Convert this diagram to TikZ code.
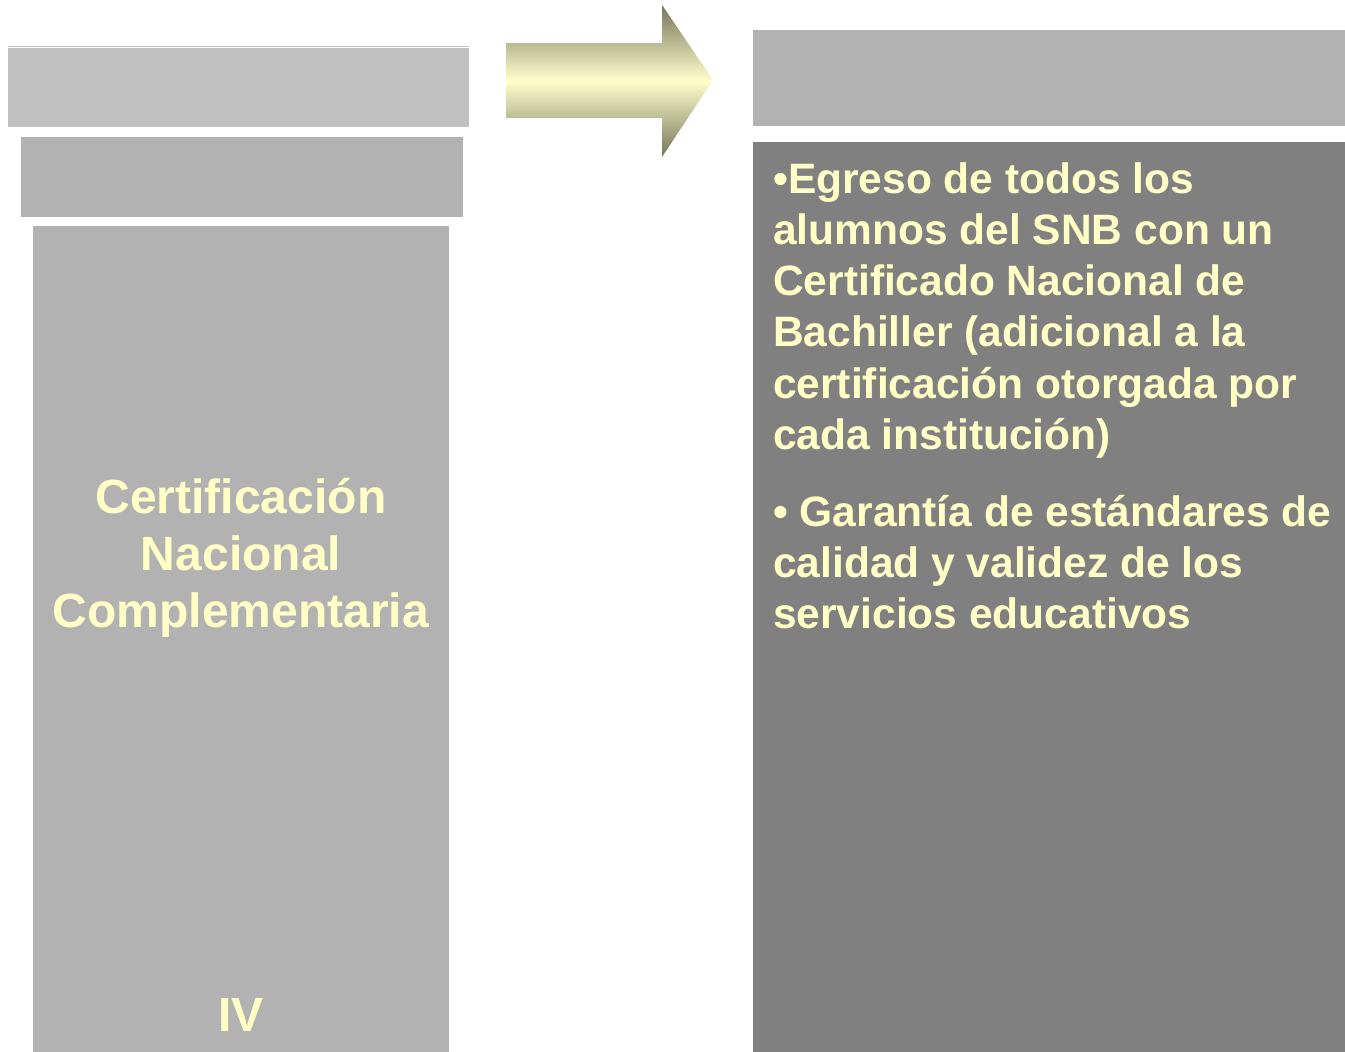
\documentclass[tikz,border=0pt]{standalone}
\usepackage{fontspec}
\setmainfont{Liberation Sans}
\definecolor{boxlight}{HTML}{C0C0C0}
\definecolor{boxmid}{HTML}{B2B2B2}
\definecolor{boxdark}{HTML}{808080}
\definecolor{txt}{HTML}{FFFFC6}
\definecolor{arrdark}{HTML}{76765A}
\definecolor{arrlight}{HTML}{FFFFCC}
\tikzset{
  panel/.style={draw=none},
  label/.style={text=txt, font=\bfseries, inner sep=0pt},
}
\begin{document}
\begin{tikzpicture}[x=1pt,y=-1pt]
\useasboundingbox (0,0) rectangle (1345,1052);
% left column
\draw[boxlight, line width=1pt] (8,46.5) -- (469,46.5);
\fill[boxlight] (8,48) rectangle (469,127);
\fill[boxmid] (21,137) rectangle (463,217);
\fill[boxmid] (33,226) rectangle (449,1052);
% right column
\fill[boxmid] (753,30) rectangle (1345,126);
\fill[boxdark] (753,142) rectangle (1345,1052);
% arrow
\shade[top color=arrdark, bottom color=arrdark, middle color=arrlight]
  (506,43) -- (662,43) -- (662,5) -- (713,80) -- (662,157) -- (662,118) -- (506,118) -- cycle;
% texts
\node[label, align=center, font=\bfseries\fontsize{48}{57}\selectfont] (cert) at (241,558)
  {Certificación\\Nacional\\Complementaria};
\node[label, font=\bfseries\fontsize{48}{57}\selectfont] (iv) at (241,1015) {IV};
\node[label, anchor=north west, align=left, font=\bfseries\fontsize{42.5}{51.3}\selectfont] (p1) at (773,162)
  {•Egreso de todos los\\alumnos del SNB con un\\Certificado Nacional de\\Bachiller (adicional a la\\certificación otorgada por\\cada institución)};
\node[label, anchor=north west, align=left, font=\bfseries\fontsize{42.5}{51.3}\selectfont] (p2) at (773,495)
  {• Garantía de estándares de\\calidad y validez de los\\servicios educativos};
\end{tikzpicture}
\end{document}
